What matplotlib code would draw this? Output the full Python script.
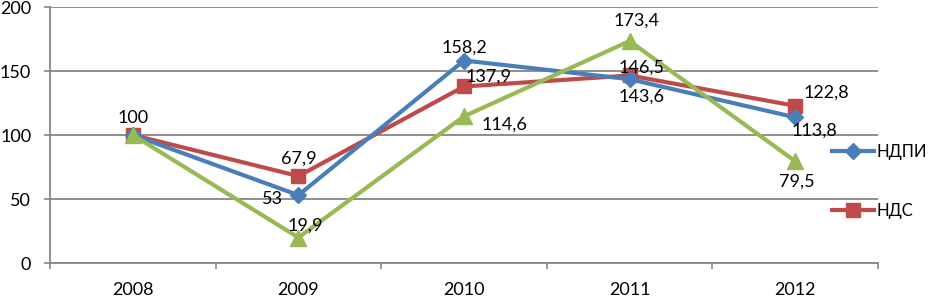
import matplotlib
matplotlib.use("Agg")
import matplotlib.pyplot as plt
import numpy as np

plt.rcParams['font.family'] = ['Lato', 'DejaVu Sans']

years = ['2008', '2009', '2010', '2011', '2012']
ndpi = [100, 53, 158.2, 143.6, 113.8]
nds = [100, 67.9, 137.9, 146.5, 122.8]
third = [100, 19.9, 114.6, 173.4, 79.5]
series_names = ['НДПИ', 'НДС', '']

# label offsets (pixels) per series and point, None = no label
off_ndpi = [None, (-26, -4), (0, 13), (12, -17), (19, -13)]
off_nds = [(0, 17), (0, 17), (25, 10), (12, 8), (31, 13)]
off_third = [None, (7, 12), (40, -8), (7, 20), (2, -20)]

blue = '#4A7EBB'
red = '#BE4B48'
green = '#98B954'
grid_c = '#868686'
fs = 13

fig = plt.figure(figsize=(9.31, 2.97), dpi=100)
ax = fig.add_axes([50 / 931, 34 / 297, 828 / 931, 256 / 297])

x = np.arange(len(years))
l1, = ax.plot(x, ndpi, color=blue, lw=3, marker='D', ms=8, label=series_names[0], zorder=4)
l2, = ax.plot(x, nds, color=red, lw=3, marker='s', ms=10, label=series_names[1], zorder=3)
l3, = ax.plot(x, third, color=green, lw=3, marker='^', ms=12, label=series_names[2], zorder=5)

def label(vals, offs):
    for i, (v, o) in enumerate(zip(vals, offs)):
        if o is None:
            continue
        txt = ('%g' % v).replace('.', ',')
        ax.annotate(txt, (x[i], v), xytext=o, textcoords='offset pixels',
                    ha='center', va='center', fontsize=fs, zorder=6)

label(ndpi, off_ndpi)
label(nds, off_nds)
label(third, off_third)

ax.set_xlim(-0.5, len(years) - 0.5)
ax.set_ylim(0, 200)
ax.set_yticks([0, 50, 100, 150, 200])
ax.set_xticks(x)
ax.set_xticklabels(years)
ax.set_xticks(np.arange(-0.5, len(years)), minor=True)
ax.tick_params(axis='x', which='major', length=0, pad=14, labelsize=fs)
ax.tick_params(axis='x', which='minor', length=4.5, color=grid_c, width=1.2)
ax.tick_params(axis='y', length=4.5, color=grid_c, width=1.2, pad=9, labelsize=fs)
ax.grid(axis='y', color=grid_c, lw=1.3)
ax.set_axisbelow(True)
for s in ['top', 'right']:
    ax.spines[s].set_visible(False)
for s in ['left', 'bottom']:
    ax.spines[s].set_color(grid_c)
    ax.spines[s].set_linewidth(1.3)

leg = ax.legend([l1, l2], series_names[:2], loc='upper left',
                bbox_to_anchor=(832 / 931, 0.515), bbox_transform=fig.transFigure,
                frameon=False, fontsize=12, handlelength=2.5, labelspacing=2.55,
                borderaxespad=0, handletextpad=0.15, borderpad=0)
leg.set_zorder(7)

fig.savefig('out.png', dpi=100)
